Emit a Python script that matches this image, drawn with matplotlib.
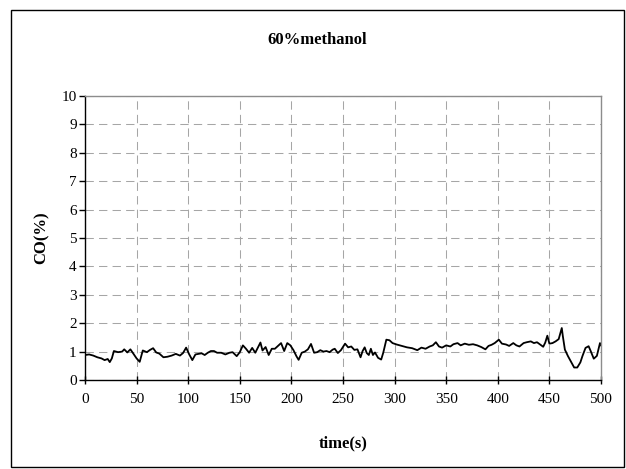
import matplotlib
matplotlib.use("Agg")
import matplotlib.pyplot as plt
from matplotlib.patches import Rectangle

# CO reading over the run, 60% methanol feed
time_s = [0, 4, 8, 12, 16, 19, 22, 24, 26, 28, 32, 36, 38, 41, 44, 47, 50, 53, 56, 60,
          63, 66, 69, 72, 76, 80, 84, 88, 92, 95, 98, 101, 104, 107, 110, 113, 116, 119, 122, 125,
          128, 132, 136, 140, 143, 147, 150, 153, 156, 159, 162, 165, 170, 172, 175, 178, 181, 184, 187, 190,
          193, 196, 199, 202, 205, 207, 210, 213, 216, 219, 222, 225, 228, 231, 234, 237, 240, 242, 245, 248,
          252, 255, 258, 261, 264, 267, 269, 271, 273, 275, 277, 279, 281, 284, 287, 289, 292, 295, 298, 302,
          307, 312, 317, 322, 326, 330, 334, 337, 340, 343, 346, 350, 354, 357, 361, 364, 368, 372, 376, 380,
          384, 388, 391, 394, 397, 401, 404, 408, 411, 415, 418, 421, 425, 428, 432, 435, 438, 441, 444, 446,
          448, 450, 453, 456, 459, 462, 463, 465, 468, 471, 474, 477, 480, 482, 485, 488, 490, 493, 496, 499,
          500]
co_pct = [0.88, 0.90, 0.86, 0.80, 0.76, 0.70, 0.74, 0.63, 0.76, 1.02, 0.98, 1.00, 1.08, 0.97, 1.08, 0.92, 0.76, 0.64, 1.04, 0.98,
          1.06, 1.12, 0.97, 0.93, 0.80, 0.82, 0.86, 0.92, 0.86, 0.95, 1.14, 0.90, 0.70, 0.90, 0.92, 0.94, 0.88, 0.96, 1.02, 1.02,
          0.96, 0.96, 0.90, 0.96, 0.98, 0.84, 0.98, 1.22, 1.10, 0.96, 1.13, 0.96, 1.32, 1.04, 1.16, 0.88, 1.10, 1.10, 1.20, 1.30,
          1.02, 1.30, 1.22, 1.05, 0.83, 0.71, 0.96, 1.00, 1.08, 1.27, 0.96, 0.98, 1.05, 1.00, 1.02, 0.98, 1.07, 1.10, 0.95, 1.05,
          1.28, 1.15, 1.18, 1.06, 1.08, 0.80, 1.02, 1.15, 0.95, 0.88, 1.10, 0.88, 0.97, 0.78, 0.72, 0.96, 1.42, 1.40, 1.30, 1.25,
          1.20, 1.15, 1.12, 1.05, 1.14, 1.10, 1.18, 1.22, 1.33, 1.18, 1.14, 1.22, 1.18, 1.26, 1.30, 1.22, 1.28, 1.24, 1.26, 1.22,
          1.16, 1.08, 1.20, 1.24, 1.30, 1.42, 1.28, 1.25, 1.20, 1.30, 1.22, 1.18, 1.30, 1.33, 1.36, 1.30, 1.33, 1.25, 1.17, 1.32,
          1.56, 1.28, 1.30, 1.36, 1.44, 1.83, 1.55, 1.07, 0.84, 0.64, 0.44, 0.44, 0.62, 0.84, 1.13, 1.19, 1.02, 0.75, 0.85, 1.30,
          1.22]

x_ticks = list(range(0, 501, 50))
y_ticks = list(range(0, 11))

plt.rcParams["font.family"] = ["Liberation Serif", "DejaVu Serif"]

fig = plt.figure(figsize=(6.26, 4.69), dpi=100)
ax = fig.add_axes([85 / 626, 1 - 380 / 469, 516 / 626, 284 / 469])

ax.plot(time_s, co_pct, color="black", lw=1.3)

ax.set_xlim(0, 500)
ax.set_ylim(0, 10)
ax.set_xticks(x_ticks)
ax.set_yticks(y_ticks)
ax.grid(True, color="#a6a6a6", lw=0.75, linestyle=(0, (8, 5)))
ax.set_axisbelow(True)

for side in ("top", "right"):
    ax.spines[side].set_color("#8c8c8c")
    ax.spines[side].set_linewidth(1.0)
for side in ("left", "bottom"):
    ax.spines[side].set_color("black")
    ax.spines[side].set_linewidth(1.0)

ax.tick_params(axis="y", direction="out", length=4, width=1, labelsize=11, pad=2)
ax.tick_params(axis="x", direction="inout", length=6, width=1, labelsize=11, pad=6)

fig.text(317 / 626, 1 - 40 / 469, "60%methanol", ha="center", va="center",
         fontsize=12, fontweight="bold")
fig.text(343 / 626, 1 - 443 / 469, "time(s)", ha="center", va="center",
         fontsize=12, fontweight="bold")
fig.text(42 / 626, 1 - 238 / 469, "CO(%)", ha="center", va="center",
         rotation=90, fontsize=12, fontweight="bold")

# chart-area border
fig.patches.append(Rectangle((11 / 626, 1 - 467 / 469), 613 / 626, 457 / 469,
                             transform=fig.transFigure, fill=False,
                             edgecolor="black", lw=1.0))

fig.savefig("out.png", dpi=100)
